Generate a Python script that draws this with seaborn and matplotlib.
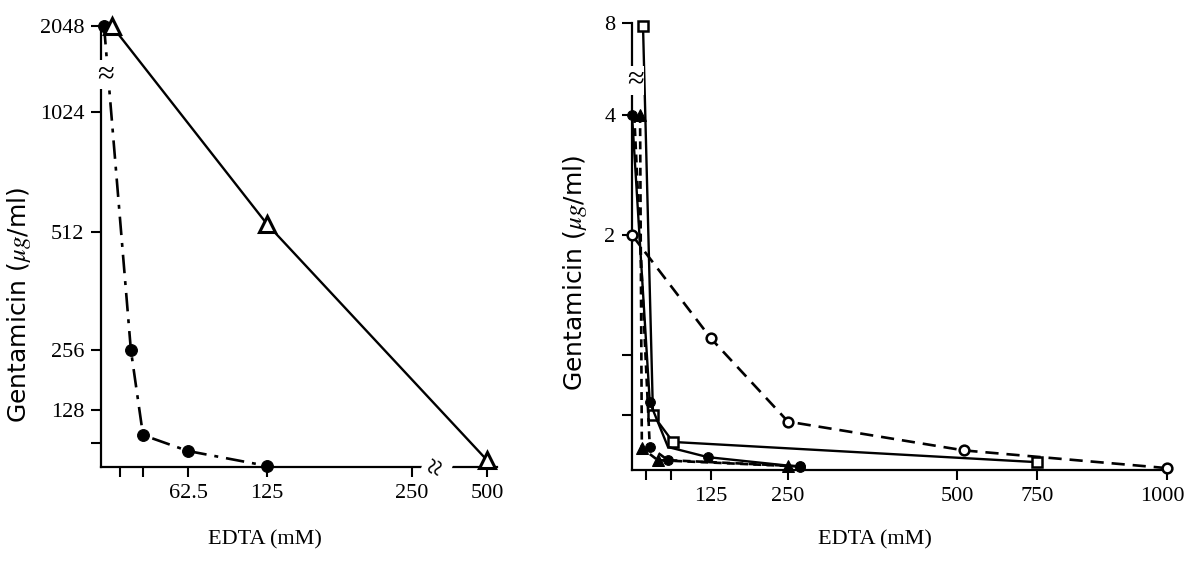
import numpy as np
import pandas as pd
import matplotlib
matplotlib.use("Agg")
import matplotlib.pyplot as plt
import matplotlib.transforms as mtransforms
import seaborn as sns

# ---- data: left panel (gentamicin MIC vs EDTA) ----
left_circle_edta = [2.5, 23, 31.25, 62.5, 125]
left_circle_gm = [2048, 256, 75.6, 50.8, 33]
left_tri_edta = [9, 125, 500]
left_tri_gm = [2048, 536, 39]

left_xticks = [15.6, 31.25, 62.5, 125, 250, 500]
left_xlabels = ["", "", "62.5", "125", "250", "500"]
left_yticks = [64, 128, 256, 512, 1024, 2048]
left_ylabels = ["", "128", "256", "512", "1024", "2048"]

# ---- data: right panel ----
r_sq_edta = [24.6, 40, 65.6, 750]
r_sq_gm = [7.8, 0.5, 0.356, 0.276]
r_oc_edta = [0, 125, 250, 522, 1000]
r_oc_gm = [2, 1.1, 0.46, 0.32, 0.256]
r_fc_edta = [0, 36, 58.75, 120, 268]
r_fc_gm = [4, 0.58, 0.334, 0.294, 0.26]
r_tri_edta = [18, 22, 46, 250]
r_tri_gm = [4, 0.33, 0.283, 0.263]
r_fc2_edta = [5, 36, 58.75, 268]
r_fc2_gm = [4, 0.334, 0.283, 0.262]

right_xticks = [31.25, 62.5, 125, 250, 500, 750, 1000]
right_xlabels = ["", "", "125", "250", "500", "750", "1000"]
right_yticks = [0.5, 1, 2, 4, 8]
right_ylabels = ["", "", "2", "4", "8"]

# hand-drawn, uneven axes of the original: value -> pixel anchors
left_x_vals = [0, 15.6, 31.25, 62.5, 125, 250, 500, 520]
left_x_pix = [101, 120, 143, 188, 267, 412, 487, 497]
left_y_vals = [32, 64, 128, 256, 512, 1024, 2048]
left_y_pix = [467, 443, 410, 350, 232, 112, 26]
right_x_vals = [0, 31.25, 62.5, 125, 250, 500, 750, 1000, 1015]
right_x_pix = [632, 646, 671, 711, 788, 957, 1037, 1167, 1172]
right_y_vals = [0.25, 0.5, 1, 2, 4, 8]
right_y_pix = [470, 415, 355, 235, 115, 23]


def uneven_scale(vals, pix, log=False):
    vals = np.asarray(vals, float)
    pix = np.asarray(pix, float)
    pos = (pix - pix[0]) / (pix[-1] - pix[0])
    key = np.log2(vals) if log else vals

    def fwd(v):
        v = np.asarray(v, float)
        k = np.log2(np.clip(v, 1e-9, None)) if log else v
        return np.interp(k, key, pos)

    def inv(p):
        k = np.interp(np.asarray(p, float), pos, key)
        return 2 ** k if log else k

    return fwd, inv


sns.set_theme(style="ticks")
plt.rcParams["font.family"] = ["Liberation Serif", "DejaVu Serif"]
plt.rcParams["mathtext.fontset"] = "stix"
plt.rcParams["axes.linewidth"] = 1.6
plt.rcParams["xtick.major.width"] = 1.5
plt.rcParams["ytick.major.width"] = 1.5
plt.rcParams["xtick.major.size"] = 7
plt.rcParams["ytick.major.size"] = 7
plt.rcParams["axes.edgecolor"] = "black"
plt.rcParams["axes.labelcolor"] = "black"
plt.rcParams["text.color"] = "black"
plt.rcParams["xtick.color"] = "black"
plt.rcParams["ytick.color"] = "black"

W, H = 1186, 564
fig = plt.figure(figsize=(W / 100, H / 100), dpi=100)
ax1 = fig.add_axes([101 / W, 1 - 467 / H, 396 / W, 441 / H])
ax2 = fig.add_axes([632 / W, 1 - 470 / H, 540 / W, 447 / H])

ax1.set_xscale("function", functions=uneven_scale(left_x_vals, left_x_pix))
ax1.set_yscale("function", functions=uneven_scale(left_y_vals, left_y_pix, log=True))
ax2.set_xscale("function", functions=uneven_scale(right_x_vals, right_x_pix))
ax2.set_yscale("function", functions=uneven_scale(right_y_vals, right_y_pix, log=True))

common = dict(color="black", markeredgecolor="black", estimator=None,
              sort=False, clip_on=False, zorder=3)

# left panel
sns.lineplot(x=left_circle_edta, y=left_circle_gm, ax=ax1, marker="o",
             markersize=8.5, linestyle=(0, (7, 3, 1.5, 3)), linewidth=1.9, **common)
sns.lineplot(x=left_tri_edta, y=left_tri_gm, ax=ax1, marker="^",
             markersize=11, markerfacecolor="white", markeredgewidth=2.2,
             linestyle="-", linewidth=1.7, **common)

# right panel
sns.lineplot(x=r_sq_edta, y=r_sq_gm, ax=ax2, marker="s", markersize=7,
             markerfacecolor="white", markeredgewidth=1.8, linestyle="-",
             linewidth=1.7, **common)
sns.lineplot(x=r_oc_edta, y=r_oc_gm, ax=ax2, marker="o", markersize=7,
             markerfacecolor="white", markeredgewidth=1.8,
             linestyle=(0, (5, 3)), linewidth=1.9, **common)
sns.lineplot(x=r_fc_edta, y=r_fc_gm, ax=ax2, marker="o", markersize=7,
             markevery=[0, 1, 3, 4], linestyle="-", linewidth=1.7, **common)
sns.lineplot(x=r_tri_edta, y=r_tri_gm, ax=ax2, marker="^", markersize=8,
             linestyle=(0, (3, 2)), linewidth=1.9, **common)
sns.lineplot(x=r_fc2_edta, y=r_fc2_gm, ax=ax2, marker="o", markersize=7,
             markevery=[1, 2, 3], linestyle=(0, (3, 2)), linewidth=1.9, **common)

ax1.set_xlim(left_x_vals[0], left_x_vals[-1])
ax1.set_ylim(left_y_vals[0], left_y_vals[-1])
ax2.set_xlim(right_x_vals[0], right_x_vals[-1])
ax2.set_ylim(right_y_vals[0], right_y_vals[-1])

for ax, xt, xl, yt, yl in [(ax1, left_xticks, left_xlabels, left_yticks, left_ylabels),
                           (ax2, right_xticks, right_xlabels, right_yticks, right_ylabels)]:
    ax.set_xticks(xt)
    ax.set_xticklabels(xl)
    ax.set_yticks(yt)
    ax.set_yticklabels(yl)
    ax.minorticks_off()
    ax.tick_params(labelsize=16, pad=5)
    sns.despine(ax=ax)
    ax.set_facecolor("white")
    ax.set_xlabel("EDTA (mM)", fontsize=16)
    ax.set_ylabel(r"Gentamicin ($\mu g$/ml)", fontsize=18,
                  family=["DejaVu Sans"])

# the last label sits a little left of its tick in the original
last = ax2.get_xticklabels()[-1]
last.set_transform(last.get_transform()
                   + mtransforms.ScaledTranslation(-5 / 100, 0, fig.dpi_scale_trans))

ax1.xaxis.set_label_coords(0.414, -0.143)
ax1.yaxis.set_label_coords(-0.172, 0.367)
ax2.xaxis.set_label_coords(0.45, -0.134)
ax2.yaxis.set_label_coords(-0.08, 0.442)

# axis break marks
brk = dict(ha="center", va="center", fontsize=22, zorder=6, color="black",
           bbox=dict(facecolor="white", edgecolor="none", pad=0))
ax1.text(0.012, 1380, "≈", transform=mtransforms.blended_transform_factory(ax1.transAxes, ax1.transData), **brk)
ax1.text(333, 0, "≈", rotation=70, transform=mtransforms.blended_transform_factory(ax1.transData, ax1.transAxes), **brk)
ax2.text(0.006, 5.2, "≈", transform=mtransforms.blended_transform_factory(ax2.transAxes, ax2.transData), **brk)

fig.savefig("out.png", dpi=100, facecolor="white")
